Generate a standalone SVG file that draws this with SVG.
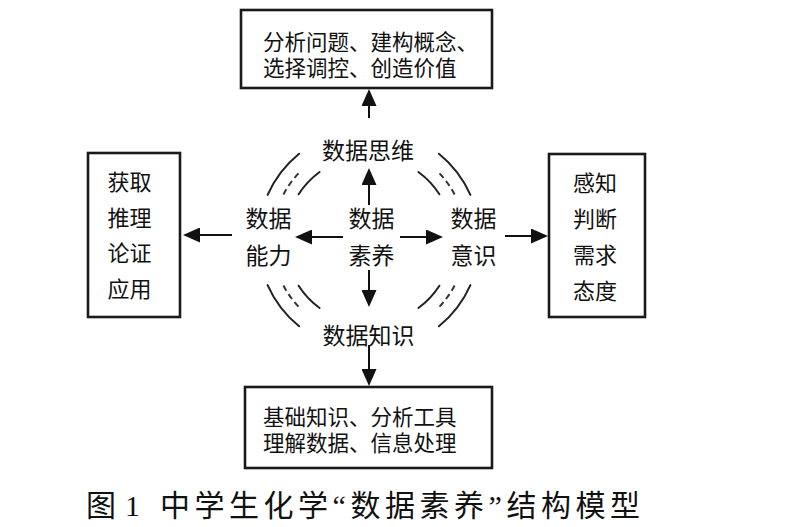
<svg xmlns="http://www.w3.org/2000/svg" width="800" height="527" viewBox="0 0 800 527">
<style>
.box{fill:#fff;stroke:#1a1a1a;stroke-width:2.6}
.t{font-family:"Noto Sans CJK SC","Noto Sans CJK JP",sans-serif;fill:#111}
.s21{font-size:21.5px}
.s22{font-size:22px}
.s23{font-size:23px}
.ln{stroke:#111;stroke-width:2;fill:none}
.arc{stroke:#222;stroke-width:2;fill:none;stroke-linecap:round}
.dash{stroke:#333;stroke-width:2;fill:none;stroke-dasharray:6 4}
.cap{font-family:"Liberation Serif","Noto Sans CJK SC",serif;font-size:30px;fill:#111}
</style>
<defs>
<marker id="ah" markerUnits="userSpaceOnUse" markerWidth="17" markerHeight="15" refX="15" refY="7.5" orient="auto">
<path d="M0,0 L17,7.5 L0,15 Z" fill="#111"/>
</marker>
</defs>
<rect width="800" height="527" fill="#fff"/>

<g id="top-box">
<rect class="box" x="241" y="10" width="251" height="78"/>
<text class="t s21" x="263" y="50.2">分析问题、建构概念、</text>
<text class="t s21" x="263" y="76.2">选择调控、创造价值</text>
</g>

<g id="left-box">
<rect class="box" x="88" y="153" width="92" height="164"/>
<text class="t s22" x="129.5" y="190.4" text-anchor="middle">获取</text>
<text class="t s22" x="129.5" y="225.9" text-anchor="middle">推理</text>
<text class="t s22" x="129.5" y="261.4" text-anchor="middle">论证</text>
<text class="t s22" x="129.5" y="296.9" text-anchor="middle">应用</text>
</g>

<g id="right-box">
<rect class="box" x="549" y="154" width="96" height="163"/>
<text class="t s22" x="595" y="191.4" text-anchor="middle">感知</text>
<text class="t s22" x="595" y="227.4" text-anchor="middle">判断</text>
<text class="t s22" x="595" y="263.4" text-anchor="middle">需求</text>
<text class="t s22" x="595" y="299.4" text-anchor="middle">态度</text>
</g>

<g id="bottom-box">
<rect class="box" x="245" y="387" width="247" height="81"/>
<text class="t s21" x="263" y="424.7">基础知识、分析工具</text>
<text class="t s21" x="263" y="450.7">理解数据、信息处理</text>
</g>

<g id="center">
<text class="t s23" x="371.5" y="226.7" text-anchor="middle">数据</text>
<text class="t s23" x="371.5" y="263.7" text-anchor="middle">素养</text>
</g>

<g id="thinking">
<text class="t s23" x="368" y="158.7" text-anchor="middle">数据思维</text>
</g>

<g id="ability">
<text class="t s23" x="268.5" y="226.7" text-anchor="middle">数据</text>
<text class="t s23" x="268.5" y="263.7" text-anchor="middle">能力</text>
</g>

<g id="awareness">
<text class="t s23" x="473.5" y="226.7" text-anchor="middle">数据</text>
<text class="t s23" x="473.5" y="263.7" text-anchor="middle">意识</text>
</g>

<g id="knowledge">
<text class="t s23" x="368.5" y="343.7" text-anchor="middle">数据知识</text>
</g>

<g id="arcs">
<path class="arc" d="M267.6,194.9 A111,111 0 0 1 299.1,153.7"/>
<path class="dash" d="M283.4,194.5 A97,97 0 0 1 300.4,171.4"/>
<path class="arc" d="M298.6,194.3 A84,84 0 0 1 319.6,172.0"/>

<path class="arc" d="M470.4,194.9 A111,111 0 0 0 438.9,153.7"/>
<path class="dash" d="M454.6,194.5 A97,97 0 0 0 437.6,171.4"/>
<path class="arc" d="M439.4,194.3 A84,84 0 0 0 418.4,172.0"/>

<path class="arc" d="M267.6,285.1 A111,111 0 0 0 299.1,326.3"/>
<path class="dash" d="M283.4,285.5 A97,97 0 0 0 300.4,308.6"/>
<path class="arc" d="M298.6,285.7 A84,84 0 0 0 319.6,308.0"/>

<path class="arc" d="M470.4,285.1 A111,111 0 0 1 438.9,326.3"/>
<path class="dash" d="M454.6,285.5 A97,97 0 0 1 437.6,308.6"/>
<path class="arc" d="M439.4,285.7 A84,84 0 0 1 418.4,308.0"/>
</g>

<g id="connectors">
<line class="ln" x1="369" y1="205" x2="369" y2="170" marker-end="url(#ah)"/>
<line class="ln" x1="369" y1="270" x2="369" y2="305" marker-end="url(#ah)"/>
<line class="ln" x1="343" y1="237" x2="297" y2="237" marker-end="url(#ah)"/>
<line class="ln" x1="400" y1="237" x2="441" y2="237" marker-end="url(#ah)"/>
<line class="ln" x1="232" y1="235" x2="185" y2="235" marker-end="url(#ah)"/>
<line class="ln" x1="505" y1="236" x2="546" y2="236" marker-end="url(#ah)"/>
<line class="ln" x1="369" y1="118" x2="369" y2="91" marker-end="url(#ah)"/>
<line class="ln" x1="369" y1="345" x2="369" y2="384" marker-end="url(#ah)"/>
</g>

<text class="cap" y="516"><tspan x="86">图</tspan><tspan x="125">1</tspan><tspan x="160" textLength="480" lengthAdjust="spacing">中学生化学“数据素养”结构模型</tspan></text>
</svg>
